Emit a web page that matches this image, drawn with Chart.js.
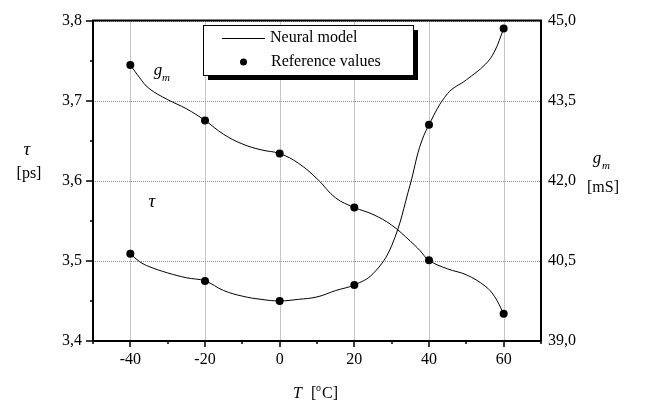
<!DOCTYPE html>
<html>
<head>
<meta charset="utf-8">
<script src="https://cdn.jsdelivr.net/npm/chart.js@4/dist/chart.umd.min.js"></script>
<style>
html,body{margin:0;padding:0;background:#fff;}
canvas{display:block;}
</style>
</head>
<body>
<canvas id="c" width="645" height="410"></canvas>
<script>
// Reference values (points)
const refT = [-40, -20, 0, 20, 40, 60];
const tauRef = [3.509, 3.475, 3.450, 3.470, 3.670, 3.790];
const gmRef = [44.17, 43.13, 42.51, 41.50, 40.51, 39.51];

// Neural model curve
const modelT = [-40, -37.5, -35, -30, -25, -20, -15, -10, -5, 0, 5, 10, 15, 20, 25, 30, 35, 37.5, 40, 45, 50, 55, 57.5, 60];
const tauModel = [3.509, 3.499, 3.493, 3.485, 3.479, 3.475, 3.463, 3.456, 3.452, 3.450, 3.452, 3.455, 3.463, 3.470, 3.484, 3.519, 3.596, 3.642, 3.670, 3.709, 3.726, 3.745, 3.761, 3.790];
const gmModel = [44.17, 43.93, 43.73, 43.52, 43.35, 43.13, 42.87, 42.69, 42.58, 42.51, 42.33, 42.04, 41.68, 41.50, 41.37, 41.17, 40.87, 40.70, 40.51, 40.35, 40.24, 40.03, 39.84, 39.51];

// Axis ticks
const xTicks = [-40, -20, 0, 20, 40, 60];
const xMinor = [-50, -30, -10, 10, 30, 50, 70];
const tauTicks = [3.4, 3.5, 3.6, 3.7, 3.8];
const tauMinor = [3.45, 3.55, 3.65, 3.75];
const gmTicks = [39.0, 40.5, 42.0, 43.5, 45.0];

const SERIF = "'Liberation Serif', 'Times New Roman', serif";

function pts(xs, ys) { return xs.map((x, i) => ({x: x, y: ys[i]})); }
function comma(v, d) { return v.toFixed(d).replace('.', ','); }

const decor = {
  id: 'decor',
  beforeDatasetsDraw(chart) {
    const ctx = chart.ctx;
    const a = chart.chartArea;
    const xs = chart.scales.x, ys = chart.scales.y;
    ctx.save();
    ctx.strokeStyle = '#8c8c8c';
    ctx.lineWidth = 1;
    ctx.setLineDash([1, 1]);
    ctx.beginPath();
    xTicks.forEach(v => { const p = Math.round(xs.getPixelForValue(v)) + 0.5; ctx.moveTo(p, a.top); ctx.lineTo(p, a.bottom); });
    tauTicks.forEach(v => { const p = Math.round(ys.getPixelForValue(v)) + 0.5; ctx.moveTo(a.left, p); ctx.lineTo(a.right, p); });
    ctx.stroke();
    ctx.restore();
  },
  afterDraw(chart) {
    const ctx = chart.ctx;
    const a = chart.chartArea;
    const xs = chart.scales.x, ys = chart.scales.y;
    ctx.save();
    // frame
    ctx.strokeStyle = '#000';
    ctx.lineWidth = 2;
    ctx.beginPath();
    ctx.rect(a.left, a.top, a.right - a.left, a.bottom - a.top);
    ctx.stroke();
    // ticks
    ctx.lineWidth = 1.5;
    ctx.beginPath();
    xTicks.forEach(v => { const p = Math.round(xs.getPixelForValue(v)); ctx.moveTo(p, a.bottom); ctx.lineTo(p, a.bottom + 6); });
    xMinor.forEach(v => { const p = Math.round(xs.getPixelForValue(v)); ctx.moveTo(p, a.bottom); ctx.lineTo(p, a.bottom + 3); });
    tauTicks.forEach(v => { const p = Math.round(ys.getPixelForValue(v)); ctx.moveTo(a.left, p); ctx.lineTo(a.left - 7, p); });
    tauMinor.forEach(v => { const p = Math.round(ys.getPixelForValue(v)); ctx.moveTo(a.left, p); ctx.lineTo(a.left - 3, p); });
    ctx.stroke();

    ctx.fillStyle = '#000';
    ctx.textBaseline = 'middle';
    ctx.textAlign = 'center';
    // left axis title
    ctx.font = 'italic 19px ' + SERIF;
    ctx.fillText('\u03C4', 27, 150);
    ctx.font = '16px ' + SERIF;
    ctx.fillText('[ps]', 29, 174);
    // right axis title
    ctx.font = 'italic 17px ' + SERIF;
    ctx.fillText('g', 597, 159);
    ctx.font = 'italic 11px ' + SERIF;
    ctx.fillText('m', 606, 166);
    ctx.font = '16px ' + SERIF;
    ctx.fillText('[mS]', 603, 188);
    // x axis title
    ctx.textAlign = 'left';
    ctx.font = 'italic 16px ' + SERIF;
    ctx.fillText('T', 293, 394);
    ctx.font = '16px ' + SERIF;
    ctx.fillText('[', 311, 394);
    ctx.fillText('C]', 322, 394);
    ctx.font = '10px ' + SERIF;
    ctx.fillText('o', 316, 388);
    // annotations
    ctx.textAlign = 'center';
    ctx.font = 'italic 17px ' + SERIF;
    ctx.fillText('g', 158, 71);
    ctx.font = 'italic 11px ' + SERIF;
    ctx.fillText('m', 166, 78);
    ctx.font = 'italic 19px ' + SERIF;
    ctx.fillText('\u03C4', 152, 202);

    // legend
    ctx.fillStyle = '#000';
    ctx.fillRect(208, 30, 210, 50);
    ctx.fillStyle = '#fff';
    ctx.fillRect(203, 25, 210, 50);
    ctx.strokeStyle = '#000';
    ctx.lineWidth = 1;
    ctx.strokeRect(203.5, 25.5, 210, 50);
    ctx.beginPath();
    ctx.moveTo(222, 38.5); ctx.lineTo(265, 38.5);
    ctx.stroke();
    ctx.fillStyle = '#000';
    ctx.beginPath();
    ctx.arc(243.5, 62, 3.5, 0, Math.PI * 2);
    ctx.fill();
    ctx.textAlign = 'left';
    ctx.font = '16px ' + SERIF;
    ctx.fillText('Neural model', 270, 38);
    ctx.fillText('Reference values', 271, 62);
    ctx.restore();
  }
};

new Chart(document.getElementById('c'), {
  type: 'line',
  data: {
    datasets: [
      {label: 'tau model', data: pts(modelT, tauModel), yAxisID: 'y', borderColor: '#000', borderWidth: 1, pointRadius: 0, tension: 0.4, fill: false},
      {label: 'gm model', data: pts(modelT, gmModel), yAxisID: 'y2', borderColor: '#000', borderWidth: 1, pointRadius: 0, tension: 0.4, fill: false},
      {label: 'tau ref', data: pts(refT, tauRef), yAxisID: 'y', showLine: false, pointRadius: 4, pointBackgroundColor: '#000', pointBorderColor: '#000', pointBorderWidth: 0},
      {label: 'gm ref', data: pts(refT, gmRef), yAxisID: 'y2', showLine: false, pointRadius: 4, pointBackgroundColor: '#000', pointBorderColor: '#000', pointBorderWidth: 0}
    ]
  },
  options: {
    responsive: false,
    animation: false,
    events: [],
    layout: {padding: {top: 13, left: 0, right: 0, bottom: 0}},
    plugins: {legend: {display: false}, tooltip: {enabled: false}},
    scales: {
      x: {
        type: 'linear', min: -50, max: 70,
        afterBuildTicks: s => { s.ticks = xTicks.map(v => ({value: v})); },
        afterFit: s => { s.height = 69; },
        grid: {display: false, drawTicks: false},
        border: {display: false},
        ticks: {padding: 9, color: '#000', font: {family: SERIF, size: 16}, callback: v => String(v), maxRotation: 0}
      },
      y: {
        type: 'linear', position: 'left', min: 3.4, max: 3.8,
        afterBuildTicks: s => { s.ticks = tauTicks.map(v => ({value: v})); },
        afterFit: s => { s.width = 93; },
        grid: {display: false, drawTicks: false},
        border: {display: false},
        ticks: {padding: 11, color: '#000', font: {family: SERIF, size: 16}, callback: v => comma(v, 1)}
      },
      y2: {
        type: 'linear', position: 'right', min: 39, max: 45,
        afterBuildTicks: s => { s.ticks = gmTicks.map(v => ({value: v})); },
        afterFit: s => { s.width = 104; },
        grid: {display: false, drawTicks: false},
        border: {display: false},
        ticks: {padding: 7, color: '#000', font: {family: SERIF, size: 16}, callback: v => comma(v, 1)}
      }
    }
  },
  plugins: [decor]
});
</script>
</body>
</html>
